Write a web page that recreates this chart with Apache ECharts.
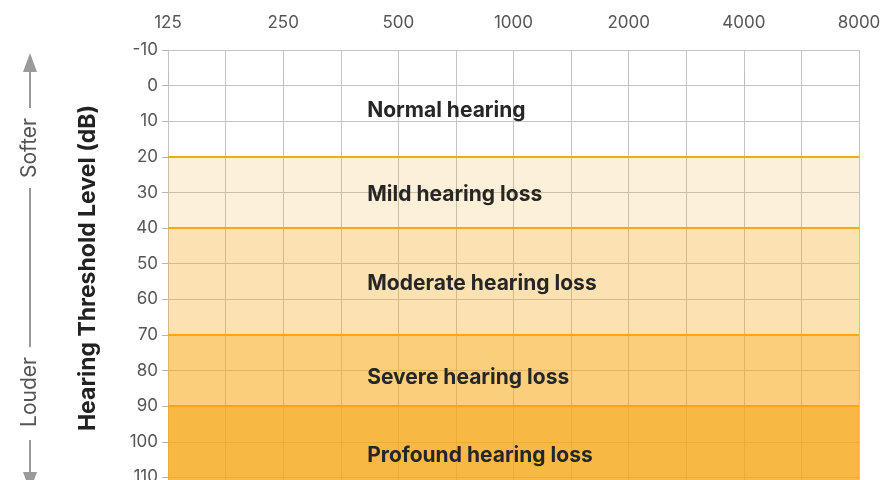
<!DOCTYPE html>
<html>
<head>
<meta charset="utf-8">
<script src="https://cdn.jsdelivr.net/npm/echarts@6/dist/echarts.min.js"></script>
<style>html,body{margin:0;padding:0;background:#fff;}#c{width:880px;height:480px;}</style>
</head>
<body>
<div id="c"></div>
<script>
// ---- data ----
const frequencies = ['125', '250', '500', '1000', '2000', '4000', '8000'];
const dbMin = -10;
const dbMax = 120;
const dbStep = 10;
const bandRanges = [[20, 40], [40, 70], [70, 90], [90, 120]];
const bandBoundaries = [20, 40, 70, 90];
const bandNames = ['Normal hearing', 'Mild hearing loss', 'Moderate hearing loss', 'Severe hearing loss', 'Profound hearing loss'];
const bandLabelDb = [6.9, 30.5, 55.5, 81.9, 104];
const bandLabelFreqIndex = 1.73;
const axisTitle = 'Hearing Threshold Level (dB)';
const softerText = 'Softer';
const louderText = 'Louder';

// ---- styles ----
const bandOpacity = [0.17, 0.33, 0.57, 0.8];
const bandColor = '#f6a815';
const font = 'Inter, "Noto Sans", sans-serif';

const chart = echarts.init(document.getElementById('c'), null, {renderer: 'canvas'});

const markAreaData = bandRanges.map((r, i) => [
  {yAxis: r[0], itemStyle: {color: bandColor, opacity: bandOpacity[i]}},
  {yAxis: r[1]}
]);
const markLineData = bandBoundaries.map(v => ({yAxis: v}));
const labelData = bandNames.map((n, i) => ({value: [bandLabelFreqIndex, bandLabelDb[i]], name: n}));

const arrowColor = '#9a9a9a';
const option = {
  animation: false,
  backgroundColor: '#ffffff',
  grid: {left: 168, top: 50, width: 691, height: 463, containLabel: false, outerBoundsMode: 'none'},
  xAxis: {
    type: 'value', position: 'top', min: 0, max: frequencies.length - 1, interval: 1,
    axisLine: {show: true, lineStyle: {color: '#c4c4c4', width: 1}},
    axisTick: {show: true, length: 14, lineStyle: {color: '#bdbdbd', width: 1}},
    axisLabel: {
      margin: 19, fontSize: 17, color: '#555', fontFamily: font,
      formatter: v => (Number.isInteger(v) ? frequencies[v] : '')
    },
    splitLine: {show: true, lineStyle: {color: '#c4c4c4', width: 1}},
    minorTick: {show: false, splitNumber: 2},
    minorSplitLine: {show: true, lineStyle: {color: '#c4c4c4', width: 1}}
  },
  yAxis: {
    type: 'value', inverse: true, min: dbMin, max: dbMax, interval: dbStep,
    axisLine: {show: true, lineStyle: {color: '#c4c4c4', width: 1}},
    axisTick: {show: true, length: 6, lineStyle: {color: '#b5b5b5', width: 1}},
    axisLabel: {margin: 10, fontSize: 17, color: '#555', fontFamily: font,
      formatter: v => (v >= dbMax ? '' : String(v))},
    splitLine: {show: true, lineStyle: {color: '#c4c4c4', width: 1}}
  },
  series: [
    {
      type: 'line', data: [], z: 1, silent: true,
      markArea: {silent: true, data: markAreaData},
      markLine: {
        silent: true, symbol: ['none', 'none'],
        label: {show: false},
        lineStyle: {color: '#f6a816', width: 2, type: 'solid'},
        data: markLineData
      }
    },
    {
      type: 'scatter', z: 5, symbolSize: 0, silent: true,
      itemStyle: {opacity: 1},
      data: labelData,
      label: {
        show: true, position: 'right', distance: 0, opacity: 1,
        formatter: p => p.name,
        fontSize: 21, fontWeight: 'bold', color: '#262626', fontFamily: font
      }
    }
  ],
  graphic: [
    {type: 'text', x: 88, y: 268, rotation: Math.PI / 2,
      style: {text: axisTitle, fontSize: 23, fontWeight: 'bold', fill: '#222', fontFamily: font, align: 'center', verticalAlign: 'middle'}},
    {type: 'text', x: 30, y: 148, rotation: Math.PI / 2,
      style: {text: softerText, fontSize: 21, fill: '#555', fontFamily: font, align: 'center', verticalAlign: 'middle'}},
    {type: 'text', x: 30, y: 392, rotation: Math.PI / 2,
      style: {text: louderText, fontSize: 21, fill: '#555', fontFamily: font, align: 'center', verticalAlign: 'middle'}},
    {type: 'line', shape: {x1: 30, y1: 68, x2: 30, y2: 108}, style: {stroke: arrowColor, lineWidth: 2}},
    {type: 'polygon', shape: {points: [[30, 53], [23, 72], [37, 72]]}, style: {fill: arrowColor}},
    {type: 'line', shape: {x1: 30, y1: 188, x2: 30, y2: 347}, style: {stroke: arrowColor, lineWidth: 2}},
    {type: 'line', shape: {x1: 30, y1: 440, x2: 30, y2: 476}, style: {stroke: arrowColor, lineWidth: 2}},
    {type: 'polygon', shape: {points: [[30, 491], [23, 472], [37, 472]]}, style: {fill: arrowColor}}
  ]
};
chart.setOption(option);
</script>
</body>
</html>
